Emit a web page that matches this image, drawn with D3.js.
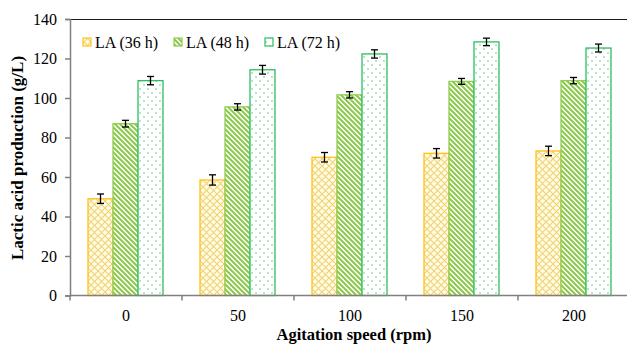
<!DOCTYPE html>
<html>
<head>
<meta charset="utf-8">
<script src="https://cdn.jsdelivr.net/npm/d3@7"></script>
<style>
  body { margin: 0; background: #fff; }
</style>
</head>
<body>
<script>
// agitation speeds (rpm) and lactic acid (g/L)
var speeds = ["0", "50", "100", "150", "200"];
var seriesNames = ["LA (36 h)", "LA (48 h)", "LA (72 h)"];
var la36 = [49, 58.5, 70, 72, 73.2];
var la48 = [87, 95.5, 101.6, 108.4, 108.8];
var la72 = [108.8, 114.3, 122.3, 128.4, 125.3];
var err36 = [2.4, 2.6, 2.4, 2.4, 2.4];
var err48 = [1.7, 1.6, 1.6, 1.5, 1.6];
var err72 = [2.1, 2.2, 2.1, 1.9, 2.0];
var yTicks = [0, 20, 40, 60, 80, 100, 120, 140];

var FONT = "'Liberation Serif', 'Times New Roman', serif";

var W = 627, H = 347;
var margin = {top: 19, right: -3, bottom: 51.5, left: 70};
var width = W - margin.left - margin.right;
var height = H - margin.top - margin.bottom;

var svg = d3.select("body").append("svg")
    .attr("width", W).attr("height", H)
    .style("font-family", FONT);

// fill patterns, one per series
var defs = svg.append("defs");

var p1 = defs.append("pattern").attr("id", "pat36")
    .attr("patternUnits", "userSpaceOnUse")
    .attr("width", 7).attr("height", 7);
p1.append("rect").attr("width", 7).attr("height", 7).attr("fill", "#fffbe9");
p1.append("path").attr("d", "M0,0 L7,7 M7,0 L0,7")
    .attr("stroke", "#f3d36f").attr("stroke-width", 1.1);

var p2 = defs.append("pattern").attr("id", "pat48")
    .attr("patternUnits", "userSpaceOnUse")
    .attr("width", 5).attr("height", 5);
p2.append("rect").attr("width", 5).attr("height", 5).attr("fill", "#ffffff");
p2.append("path").attr("d", "M0,0 L5,5 M-1,4 L1,6 M4,-1 L6,1")
    .attr("stroke", "#8cc84b").attr("stroke-width", 2);

var p3 = defs.append("pattern").attr("id", "pat72")
    .attr("patternUnits", "userSpaceOnUse")
    .attr("width", 8).attr("height", 8);
p3.append("rect").attr("width", 8).attr("height", 8).attr("fill", "#ffffff");
p3.append("circle").attr("cx", 2).attr("cy", 2).attr("r", 0.8).attr("fill", "#5cc98a");
p3.append("circle").attr("cx", 6).attr("cy", 6).attr("r", 0.8).attr("fill", "#5cc98a");

var fills = ["url(#pat36)", "url(#pat48)", "url(#pat72)"];
var strokes = ["#ffc21a", "#8fce4f", "#2dbe60"];
var values = [la36, la48, la72];
var errors = [err36, err48, err72];

var g = svg.append("g")
    .attr("transform", "translate(" + margin.left + "," + margin.top + ")");

var x0 = d3.scaleBand().domain(speeds).range([0, 560]).paddingInner(0).paddingOuter(0);
var x1 = d3.scaleBand().domain(d3.range(3)).range([18, 93]);
var y = d3.scaleLinear().domain([0, 140]).range([height, 0]);

// top frame line
g.append("line").attr("x1", 0).attr("x2", W).attr("y1", 0.5).attr("y2", 0.5)
    .attr("stroke", "#1a1a1a").attr("stroke-width", 1.2);

// bars
speeds.forEach(function(s, i) {
    for (var k = 0; k < 3; k++) {
        var v = values[k][i];
        g.append("rect")
            .attr("x", x0(s) + x1(k))
            .attr("y", y(v))
            .attr("width", x1.bandwidth())
            .attr("height", height - y(v))
            .attr("fill", fills[k])
            .attr("stroke", strokes[k])
            .attr("stroke-width", 1.3);
    }
});

// error bars
speeds.forEach(function(s, i) {
    for (var k = 0; k < 3; k++) {
        var cx = x0(s) + x1(k) + x1.bandwidth() / 2;
        var v = values[k][i], e = errors[k][i];
        var eb = g.append("g").attr("stroke", "#000").attr("stroke-width", 1.3);
        eb.append("line").attr("x1", cx).attr("x2", cx).attr("y1", y(v + e)).attr("y2", y(v - e));
        eb.append("line").attr("x1", cx - 3.5).attr("x2", cx + 3.5).attr("y1", y(v + e)).attr("y2", y(v + e));
        eb.append("line").attr("x1", cx - 3.5).attr("x2", cx + 3.5).attr("y1", y(v - e)).attr("y2", y(v - e));
    }
});

// y axis
var yAxis = g.append("g")
    .call(d3.axisLeft(y).tickValues(yTicks).tickSize(5).tickPadding(8));
yAxis.attr("font-family", null).attr("font-size", null);
yAxis.selectAll("path, line").attr("stroke", "#808080").attr("stroke-width", 1.5);
yAxis.selectAll("text").style("font-size", "16px")
    .style("font-family", FONT).attr("fill", "#000");

// x axis: ticks at category boundaries
var xAxis = g.append("g").attr("transform", "translate(0," + height + ")");
xAxis.append("line").attr("x1", 0).attr("x2", W).attr("y1", 0).attr("y2", 0)
    .attr("stroke", "#808080").attr("stroke-width", 1.5);
xAxis.selectAll("line.tk").data(speeds).enter().append("line")
    .attr("class", "tk")
    .attr("x1", function(d) { return x0(d); }).attr("x2", function(d) { return x0(d); })
    .attr("y1", 0).attr("y2", 5)
    .attr("stroke", "#808080").attr("stroke-width", 1.5);
xAxis.selectAll("text").data(speeds).enter().append("text")
    .attr("x", function(d) { return x0(d) + x0.bandwidth() / 2; })
    .attr("y", 25.5)
    .attr("text-anchor", "middle")
    .style("font-size", "16px").style("font-family", FONT)
    .text(function(d) { return d; });

// axis titles
svg.append("text")
    .attr("x", 354).attr("y", 340)
    .attr("text-anchor", "middle")
    .style("font-size", "16.5px").style("font-weight", "bold").style("font-family", FONT)
    .text("Agitation speed (rpm)");

svg.append("text")
    .attr("transform", "translate(23,158) rotate(-90)")
    .attr("text-anchor", "middle")
    .style("font-size", "17px").style("font-weight", "bold").style("font-family", FONT)
    .text("Lactic acid production (g/L)");

// legend
var legX = [83, 174, 265];
var leg = svg.append("g");
seriesNames.forEach(function(name, k) {
    leg.append("rect")
        .attr("x", legX[k]).attr("y", 38)
        .attr("width", 8).attr("height", 8)
        .attr("fill", fills[k]).attr("stroke", strokes[k]).attr("stroke-width", 1.2);
    leg.append("text")
        .attr("x", legX[k] + 12).attr("y", 47.5)
        .style("font-size", "16px").style("font-family", FONT)
        .text(name);
});
</script>
</body>
</html>
